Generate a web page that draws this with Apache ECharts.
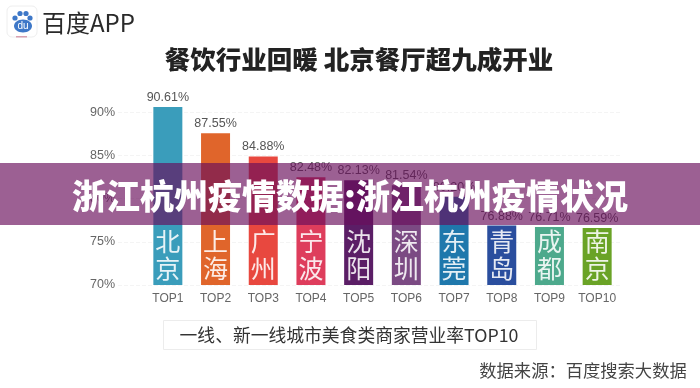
<!DOCTYPE html>
<html>
<head>
<meta charset="utf-8">
<style>
html,body{margin:0;padding:0;background:#fff;}
#chart{width:700px;height:388px;filter:blur(0.5px);}
</style>
<script src="https://cdn.jsdelivr.net/npm/echarts@6/dist/echarts.min.js"></script>
</head>
<body>
<div id="chart"></div>
<script>
var ranks = ['TOP1','TOP2','TOP3','TOP4','TOP5','TOP6','TOP7','TOP8','TOP9','TOP10'];
var cities = ['北京','上海','广州','宁波','沈阳','深圳','东莞','青岛','成都','南京'];
var rates = [90.61,87.55,84.88,82.48,82.13,81.54,80.2,76.88,76.71,76.59];
var rateLabels = ['90.61%','87.55%','84.88%','82.48%','82.13%','81.54%','80.20%','76.88%','76.71%','76.59%'];
var barColors = ['#3a9dbb','#e0652b','#e8483f','#de3d5c','#5b1e66','#7b4a83','#1f78ac','#2a4e9e','#4da98c','#6aa326'];

var cjk = '"Noto Sans CJK SC","Liberation Sans",sans-serif';
var latin = '"Liberation Sans",Arial,sans-serif';

var myChart = echarts.init(document.getElementById('chart'));
var option = {
  animation: false,
  backgroundColor: '#fff',
  grid: [
    {left:144, right:79, top:69, height:216},
    {left:118, right:79, top:69, height:216}
  ],
  xAxis: [
    {
      type:'category',
      gridIndex:0,
      data:ranks,
      axisLine:{show:false},
      axisTick:{show:false},
      axisLabel:{color:'#666',fontSize:12,fontFamily:latin,margin:8,interval:0}
    },
    {type:'category',gridIndex:1,data:ranks,show:false}
  ],
  yAxis: [
    {
      type:'value',
      gridIndex:0,
      min:70,
      max:95,
      interval:5,
      axisLine:{show:false},
      axisTick:{show:false},
      splitLine:{show:false},
      axisLabel:{
        color:'#666',fontSize:12.5,fontFamily:latin,margin:29,showMaxLabel:false,
        formatter:function(v){return v+'%';}
      }
    },
    {
      type:'value',
      gridIndex:1,
      min:70,
      max:95,
      interval:5,
      axisLine:{show:false},
      axisTick:{show:false},
      axisLabel:{show:false},
      splitLine:{showMaxLine:false,lineStyle:{color:'#f4f4f4',type:'dashed'}}
    }
  ],
  series: [
    {
      // 柱子 + 顶部数值
      name:'营业率',
      type:'bar',
      barWidth:29,
      data:rates.map(function(v,i){return {value:v,itemStyle:{color:barColors[i]}};}),
      label:{
        show:true,position:'top',distance:3,color:'#555',fontSize:12.5,fontFamily:latin,
        formatter:function(p){return rateLabels[p.dataIndex];}
      }
    },
    {
      // 柱内城市名
      name:'城市',
      type:'bar',
      barWidth:29,
      barGap:'-100%',
      data:rates,
      itemStyle:{color:'transparent'},
      label:{
        show:true,position:'insideBottom',distance:3,color:'rgba(255,255,255,0.88)',
        fontSize:25,lineHeight:27,fontFamily:cjk,
        formatter:function(p){return cities[p.dataIndex].split('').join('\n');}
      }
    }
  ],
  graphic: [
    // logo
    {type:'rect',z:10,shape:{x:7,y:6,width:30,height:31,r:5},style:{fill:'#fff',stroke:'#eeeeee',lineWidth:1}},
    {type:'circle',z:11,shape:{cx:15,cy:18,r:2.6},style:{fill:'#3e78c8'}},
    {type:'circle',z:11,shape:{cx:20,cy:13.5,r:2.6},style:{fill:'#3e78c8'}},
    {type:'circle',z:11,shape:{cx:26,cy:13.5,r:2.6},style:{fill:'#3e78c8'}},
    {type:'circle',z:11,shape:{cx:30,cy:18,r:2.6},style:{fill:'#3e78c8'}},
    {type:'ellipse',z:11,shape:{cx:23,cy:26,rx:9,ry:6.5},style:{fill:'#3e78c8'}},
    {type:'text',z:12,x:23,y:26.5,style:{text:'du',fill:'#fff',fontSize:10,fontFamily:latin,align:'center',verticalAlign:'middle'}},
    {type:'rect',z:11,shape:{x:16,y:36,width:11,height:1.5},style:{fill:'#d9a0b0'}},
    {type:'text',z:10,x:42,y:23,style:{text:'百度APP',fill:'#2a2a2a',fontSize:24,fontFamily:cjk,verticalAlign:'middle'}},
    // 标题
    {type:'text',z:10,x:359,y:59,style:{text:'餐饮行业回暖 北京餐厅超九成开业',fill:'#222',fontSize:25.5,fontWeight:900,fontFamily:cjk,align:'center',verticalAlign:'middle'}},
    // 底部说明框
    {type:'rect',z:10,shape:{x:163.5,y:320.5,width:373,height:29},style:{fill:'#fff',stroke:'#ececec',lineWidth:1}},
    {type:'text',z:11,x:349,y:335,style:{text:'一线、新一线城市美食类商家营业率TOP10',fill:'#333',fontSize:17.8,fontFamily:cjk,align:'center',verticalAlign:'middle'}},
    {type:'text',z:10,x:583,y:370,style:{text:'数据来源：百度搜索大数据',fill:'#444',fontSize:17.3,fontFamily:cjk,align:'center',verticalAlign:'middle'}},
    // 横幅
    {type:'rect',z:100,shape:{x:0,y:163,width:700,height:62},style:{fill:'rgba(105,14,91,0.66)'}},
    {type:'text',z:101,x:350,y:196,style:{text:'浙江杭州疫情数据:浙江杭州疫情状况',fill:'#fff',fontSize:34,fontWeight:900,fontFamily:cjk,align:'center',verticalAlign:'middle'}}
  ]
};
myChart.setOption(option);
</script>
</body>
</html>
